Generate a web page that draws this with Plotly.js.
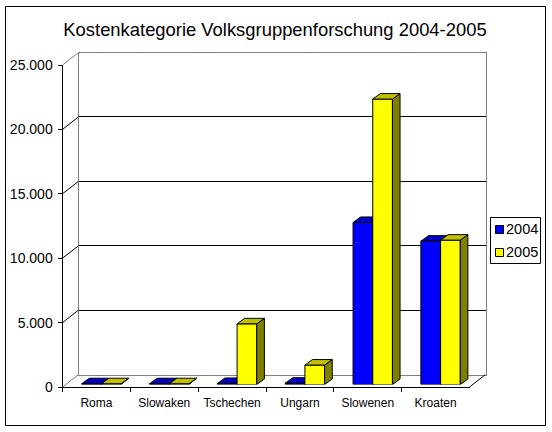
<!DOCTYPE html>
<html>
<head>
<meta charset="utf-8">
<script src="https://cdn.plot.ly/plotly-3.0.1.min.js"></script>
<style>html,body{margin:0;padding:0;background:#fff}#c{width:552px;height:432px}</style>
</head>
<body>
<div id="c"></div>
<script>
var titleText = "Kostenkategorie Volksgruppenforschung 2004-2005";
var categories = ["Roma", "Slowaken", "Tschechen", "Ungarn", "Slowenen", "Kroaten"];
var years = ["2004", "2005"];
var values2004 = [60, 60, 80, 100, 12580, 11130];
var values2005 = [60, 60, 4710, 1510, 22160, 11210];
var yTicks = [0, 5000, 10000, 15000, 20000, 25000];

var W = 552, H = 432;
var left = 62.5, right = 469.5, top_ = 65, bottom = 387;   // front plane, px
var wallDx = 16, wallDy = 12.5;                            // back wall shift, px
var barDx = 5, barDy = 2.5;                                // bar plane shift, px
var depthDx = 7.6, depthDy = 5.5;                          // bar depth, px
var barPx = 19.7;                                          // bar width, px
var yMax = 25000;

var pxPerCat = (right - left) / categories.length;
var pxPerVal = (bottom - top_) / yMax;
var bw = barPx / pxPerCat, ddx = depthDx / pxPerCat, ddy = depthDy / pxPerVal;
var wdx = wallDx / pxPerCat, wdy = wallDy / pxPerVal;
var n = categories.length;

function xd(dx) { return [(left + dx) / W, (right + dx) / W]; }
function yd(dy) { return [1 - (bottom - dy) / H, 1 - (top_ - dy) / H]; }

var centers = categories.map(function (_, i) { return i + 0.5; });

function faces(vals, lo, axX, axY, colorTop, colorSide) {
  var tx = [], ty = [], sx = [], sy = [];
  vals.forEach(function (v, i) {
    var l = centers[i] + lo, r = l + bw;
    tx.push(l, l + ddx, r + ddx, r, l, null);
    ty.push(v, v + ddy, v + ddy, v, v, null);
    sx.push(r, r + ddx, r + ddx, r, r, null);
    sy.push(v, v + ddy, ddy, 0, v, null);
  });
  function poly(x, y, c) {
    return { type: "scatter", mode: "lines", x: x, y: y, xaxis: axX, yaxis: axY, fill: "toself", fillcolor: c,
      line: { color: "#000", width: 1 }, cliponaxis: false, showlegend: false, hoverinfo: "skip" };
  }
  return [poly(sx, sy, colorSide), poly(tx, ty, colorTop)];
}

function bar(vals, lo, color, axX, axY, name) {
  return { type: "bar", name: name, x: centers, y: vals, width: bw, offset: lo, xaxis: axX, yaxis: axY,
    marker: { color: color, line: { color: "#000", width: 1 } }, showlegend: false };
}

var connX = [], connY = [], greyX = [], greyY = [];
yTicks.forEach(function (t) {
  if (t === 0 || t === yMax) { greyX.push(0, wdx, null); greyY.push(t, t + wdy, null); }
  else { connX.push(0, wdx, null); connY.push(t, t + wdy, null); }
});
connX.push(n, n + wdx, null);
connY.push(0, wdy, null);

function connector(x, y, c) {
  return { type: "scatter", mode: "lines", x: x, y: y, xaxis: "x5", yaxis: "y5", cliponaxis: false,
    line: { color: c, width: 1 }, showlegend: false, hoverinfo: "skip" };
}

var data = [
  { type: "scatter", mode: "lines", x: categories, y: categories.map(function () { return null; }), xaxis: "x", yaxis: "y", showlegend: false, hoverinfo: "skip" },
  { type: "scatter", mode: "lines", x: [], y: [], xaxis: "x2", yaxis: "y2", showlegend: false, hoverinfo: "skip" },
  bar(values2004, -bw, "#0000ff", "x3", "y3", years[0])
].concat(
  faces(values2004, -bw, "x3", "y3", "#0000c0", "#000080"),
  [bar(values2005, 0, "#ffff00", "x4", "y4", years[1])],
  faces(values2005, 0, "x4", "y4", "#c0c000", "#808000"),
  [connector(greyX, greyY, "#808080"), connector(connX, connY, "#000")]
);

var hidden = function (dom, range, anchor) {
  return { domain: dom, range: range, anchor: anchor, visible: false, fixedrange: true };
};

var legendShapes = [
  { type: "rect", xref: "paper", yref: "paper", x0: 490.5 / W, x1: 540.5 / W, y0: 1 - 263.5 / H, y1: 1 - 217.5 / H, line: { color: "#000", width: 1 }, fillcolor: "#fff" },
  { type: "rect", xref: "paper", yref: "paper", x0: 495.5 / W, x1: 503.5 / W, y0: 1 - 233.5 / H, y1: 1 - 225.5 / H, line: { color: "#000", width: 1 }, fillcolor: "#0000ff" },
  { type: "rect", xref: "paper", yref: "paper", x0: 495.5 / W, x1: 503.5 / W, y0: 1 - 256.5 / H, y1: 1 - 248.5 / H, line: { color: "#000", width: 1 }, fillcolor: "#ffff00" },
  { type: "rect", xref: "paper", yref: "paper", x0: 5.5 / W, x1: 545.5 / W, y0: 1 - 425.5 / H, y1: 1 - 6.5 / H, line: { color: "#000", width: 1 }, fillcolor: "rgba(0,0,0,0)", layer: "below" }
];
var legendText = function (t, y) {
  return { xref: "paper", yref: "paper", x: 506 / W, y: 1 - y / H, xanchor: "left", yanchor: "middle", showarrow: false,
    text: t, font: { family: "Liberation Sans", size: 14.5, color: "#000" }, borderpad: 0, borderwidth: 0 };
};

var layout = {
  width: W, height: H, autosize: false,
  margin: { l: 0, r: 0, t: 0, b: 0, pad: 0 },
  paper_bgcolor: "#fff", plot_bgcolor: "rgba(0,0,0,0)",
  separators: ",.",
  font: { family: "Liberation Sans", color: "#000" },
  showlegend: false,
  title: { text: titleText, x: 275 / W, y: 1 - 30 / H, xref: "paper", yref: "paper", xanchor: "center", yanchor: "middle",
    font: { family: "Liberation Sans", size: 18.4, color: "#000" } },
  xaxis: { domain: xd(0), type: "category", categoryorder: "array", categoryarray: categories, range: [-0.5, 5.5], anchor: "y",
    tickson: "boundaries", ticks: "outside", ticklen: 4, tickcolor: "#000", tickwidth: 1, showline: true, linecolor: "#000", linewidth: 1,
    showgrid: false, zeroline: false, tickfont: { family: "Liberation Sans", size: 12, color: "#000" }, ticklabelstandoff: 5, fixedrange: true },
  yaxis: { domain: yd(0), range: [0, yMax], anchor: "x", tickmode: "array", tickvals: yTicks, tickformat: ",d",
    ticks: "outside", ticklen: 4, tickcolor: "#000", tickwidth: 1, showline: true, linecolor: "#000", linewidth: 1,
    showgrid: false, zeroline: false, tickfont: { family: "Liberation Sans", size: 14, color: "#000" }, ticklabelstandoff: 2, fixedrange: true },
  xaxis2: { domain: xd(wallDx), range: [0, n], anchor: "y2", showline: true, mirror: true, linecolor: "#808080", linewidth: 1,
    showgrid: false, zeroline: false, showticklabels: false, ticks: "", fixedrange: true },
  yaxis2: { domain: yd(wallDy), range: [0, yMax], anchor: "x2", showline: true, mirror: true, linecolor: "#808080", linewidth: 1,
    tickmode: "array", tickvals: yTicks.slice(1, -1), showgrid: true, gridcolor: "#000", gridwidth: 1, zeroline: false,
    showticklabels: false, ticks: "", fixedrange: true },
  xaxis3: hidden(xd(barDx), [0, n], "y3"),
  yaxis3: hidden(yd(barDy), [0, yMax], "x3"),
  xaxis4: hidden(xd(barDx), [0, n], "y4"),
  yaxis4: hidden(yd(barDy), [0, yMax], "x4"),
  xaxis5: hidden([left / W, (right + wallDx) / W], [0, n + wdx], "y5"),
  yaxis5: hidden([1 - bottom / H, 1 - (top_ - wallDy) / H], [0, yMax + wdy], "x5"),
  shapes: legendShapes,
  annotations: [legendText(years[0], 229), legendText(years[1], 252)]
};

Plotly.newPlot("c", data, layout, { displayModeBar: false, staticPlot: true });
</script>
</body>
</html>
